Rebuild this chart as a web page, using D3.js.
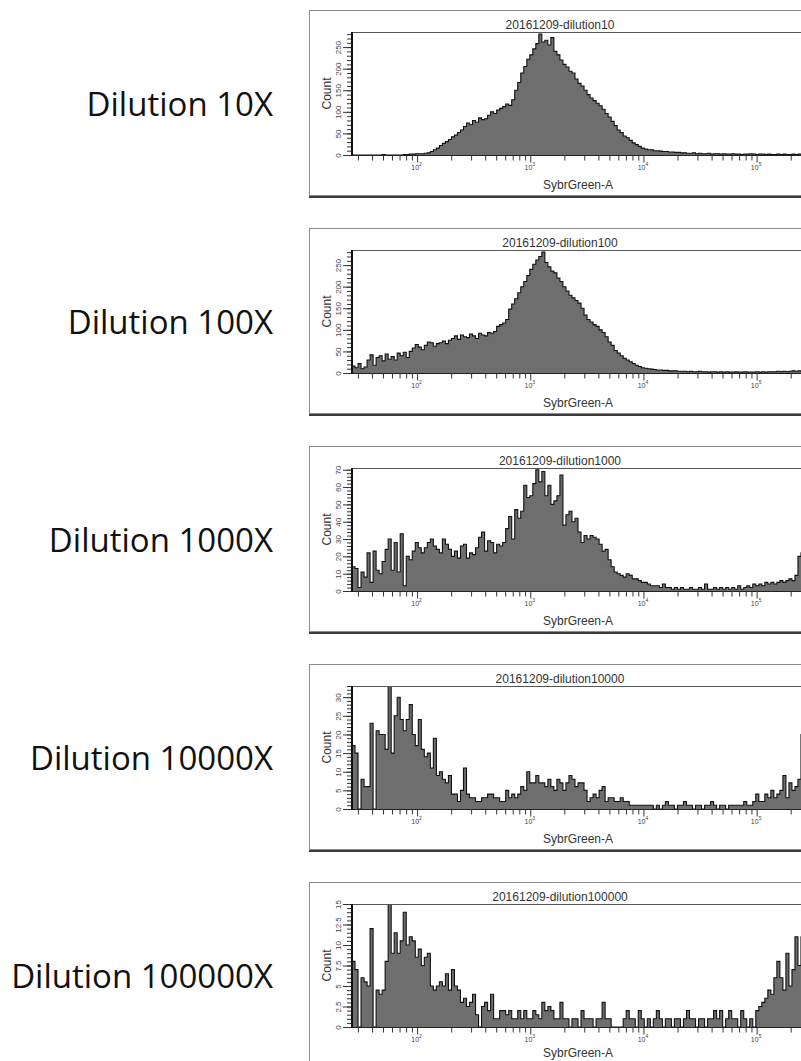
<!DOCTYPE html>
<html>
<head>
<meta charset="utf-8">
<script src="https://cdn.jsdelivr.net/npm/d3@7"></script>
<style>
  body { margin: 0; background: #fff; }
  svg { display: block; }
</style>
</head>
<body>
<div id="viz"></div>
<script>
// Row labels and FlowJo panel titles
var rowLabels = ["Dilution 10X", "Dilution 100X", "Dilution 1000X", "Dilution 10000X", "Dilution 100000X"];
var titles = ["20161209-dilution10", "20161209-dilution100", "20161209-dilution1000",
              "20161209-dilution10000", "20161209-dilution100000"];
var xLabel = "SybrGreen-A";
var yLabel = "Count";

// y axis max and label step per panel
var yMax = [285, 285, 71, 33, 15];
var yStep = [50, 50, 10, 5, 2.5];

// x axis range (log) and decade labels
var xRange = [26.6, 262144];
var xDecades = [2, 3, 4, 5];

// histogram counts, equal bins on the log axis
var counts10 = [
  0,0,0,0,0,0,0,0,0,0,
  1,0,0,0,0,0,0,1,1,2,
  2,3,3,3,4,5,8,12,16,22,
  27,31,36,42,46,52,58,66,74,70,
  80,76,86,82,84,92,100,96,104,108,
  112,118,115,128,150,168,190,205,222,232,
  246,258,280,262,266,255,272,240,232,220,
  210,204,194,190,176,166,160,150,140,132,
  126,120,114,106,96,88,78,68,58,52,
  44,40,34,28,24,20,16,14,12,12,
  10,10,9,8,8,7,7,6,6,5,
  5,4,4,5,3,4,3,3,4,2,
  3,3,2,3,2,2,3,2,2,1,
  2,2,3,2,1,2,2,1,2,1,
  1,2,1,2,1,1,2,1,2,2
];
var counts100 = [
  16,12,22,10,14,30,42,18,36,40,
  28,44,32,38,30,46,40,48,36,50,
  58,66,60,54,64,72,70,62,68,70,
  74,68,76,80,86,78,88,84,82,90,
  86,80,92,88,86,94,92,96,108,112,
  116,124,148,160,172,186,200,212,226,240,
  252,262,270,280,256,246,236,232,220,212,
  200,190,180,174,168,162,150,134,124,118,
  112,108,100,94,84,72,64,52,46,40,
  34,30,26,22,18,15,12,11,10,9,
  8,7,7,6,6,5,5,5,4,4,
  4,3,4,3,3,4,3,3,2,3,
  3,2,3,2,3,2,2,3,2,2,
  3,2,2,2,3,2,3,2,3,3,
  3,4,3,4,3,4,5,4,5,4
];
var counts1000 = [
  14,13,2,11,8,22,5,23,12,10,
  17,24,30,12,28,11,33,3,20,18,
  23,28,25,22,25,28,30,26,24,22,
  30,27,24,20,23,19,26,27,19,22,
  21,25,31,34,23,29,28,22,27,26,
  28,36,43,30,47,42,46,61,54,55,
  62,70,63,69,55,61,50,52,55,67,
  38,44,46,40,42,34,28,32,30,32,
  31,30,27,23,24,18,14,11,10,9,
  8,10,9,7,7,6,5,5,4,3,
  3,3,2,4,2,2,1,2,1,2,
  1,1,2,1,1,2,1,4,1,1,
  2,1,2,1,2,1,2,1,3,1,
  2,3,2,4,3,4,3,5,4,5,
  4,5,6,5,6,7,6,9,20,22
];
var counts10000 = [
  17,15,0,8,6,6,23,0,21,20,
  20,16,33,15,25,30,24,21,24,28,
  20,17,24,16,14,15,11,19,9,10,
  8,7,9,4,4,2,5,11,4,3,
  3,2,2,3,3,4,4,3,3,2,
  2,5,3,4,3,4,6,5,10,7,
  7,9,7,7,6,8,6,5,8,7,
  5,7,9,8,6,7,7,5,2,3,
  4,3,5,6,2,3,3,2,2,3,
  2,2,1,1,1,1,1,1,1,1,
  0,1,0,1,2,1,1,0,1,1,
  2,1,1,0,1,1,0,1,1,2,
  1,0,1,1,0,1,1,1,1,1,
  2,1,1,2,4,2,2,4,3,5,
  3,4,5,9,3,7,5,6,8,20
];
var counts100000 = [
  8,7,0,6,5.5,5,12,0,4.5,4,
  4.5,8,15,9,11.5,9,10.5,14,10,11,
  10.5,8.5,9.5,7.5,8.5,9,5,4.5,5,5.5,
  5,6.5,4.5,7,5,4.5,3,3.5,2.5,3,
  4,1.5,0,2.5,3,2,4,1,1,2,
  2,1.5,2,1,1,2,1,2,1,1,
  2,1.5,1,3,2,2.5,2,1,1,3,
  1,1,0,1,1,0,2,1,1,1,
  0,1,1,3,1,1,0,0,0,0,
  1,2,1,1,0,2,1,0,1,0,
  1,2,1,0,1,1,0,1,1,0,
  1,2,1,1,0,1,1,0,1,1,
  2,1,2,0,1,2,1,1,0,2,
  1,0,1,0,2,2.5,3,3.5,4.5,4,
  6,8,6,4.5,9,5,7,11,7.5,11
];
var series = [counts10, counts100, counts1000, counts10000, counts100000];

// layout
var WIDTH = 801;
var HEIGHT = 1061;
var PANEL_TOP = 10;
var PANEL_SHIFT = 218;
var BOX_LEFT = 309;
var PLOT_LEFT = 352;
var PLOT_RIGHT = 804;
var PLOT_TOP = 22;      // relative to panel top
var PLOT_BASE = 145;
var LABEL_RIGHT = 273;

var svg = d3.select("#viz")
  .append("svg")
  .attr("width", WIDTH)
  .attr("height", HEIGHT);

svg.append("defs");

function drawPanel(i)
{
  var T = PANEL_TOP + i * PANEL_SHIFT;
  var g = svg.append("g").attr("class", "panel");

  // row label on the left
  svg.append("text")
    .attr("x", LABEL_RIGHT)
    .attr("y", T + 106)
    .attr("text-anchor", "end")
    .style("font-family", "'Open Sans', sans-serif")
    .style("font-size", "33px")
    .style("fill", "#111")
    .text(rowLabels[i]);

  // outer frame of the FlowJo export
  g.append("rect")
    .attr("x", BOX_LEFT + 0.5)
    .attr("y", T + 0.5)
    .attr("width", 540)
    .attr("height", 185)
    .style("fill", "none")
    .style("stroke", "#8c8c8c");
  g.append("line")
    .attr("x1", BOX_LEFT).attr("x2", WIDTH)
    .attr("y1", T + 187).attr("y2", T + 187)
    .style("stroke", "#3a3a3a")
    .style("stroke-width", 2);

  var x = d3.scaleLog().domain(xRange).range([PLOT_LEFT, PLOT_RIGHT]);
  var y = d3.scaleLinear().domain([0, yMax[i]]).range([T + PLOT_BASE, T + PLOT_TOP]);

  // clip so spikes stay inside the plot
  svg.select("defs").append("clipPath")
    .attr("id", "clip" + i)
    .append("rect")
    .attr("x", PLOT_LEFT)
    .attr("y", T + PLOT_TOP)
    .attr("width", PLOT_RIGHT - PLOT_LEFT)
    .attr("height", PLOT_BASE - PLOT_TOP + 1);

  // bins -> step points
  var vals = series[i];
  var n = vals.length;
  var pts = vals.map(function(v, j) {
    return {e: xRange[0] * Math.pow(xRange[1] / xRange[0], j / n), v: v};
  });
  pts.push({e: xRange[1], v: vals[n - 1]});

  var area = d3.area()
    .curve(d3.curveStepAfter)
    .x(function(d) { return x(d.e); })
    .y0(y(0))
    .y1(function(d) { return y(d.v); });
  var line = d3.line()
    .curve(d3.curveStepAfter)
    .x(function(d) { return x(d.e); })
    .y(function(d) { return y(d.v); });

  var hist = g.append("g").attr("clip-path", "url(#clip" + i + ")");
  hist.append("path")
    .datum(pts)
    .attr("d", area)
    .style("fill", "#6e6e6e");
  hist.append("path")
    .datum(pts)
    .attr("d", line)
    .style("fill", "none")
    .style("stroke", "#111")
    .style("stroke-width", 1.1);

  // top frame of the plot
  g.append("line")
    .attr("x1", PLOT_LEFT).attr("x2", WIDTH + 10)
    .attr("y1", T + PLOT_TOP + 0.5).attr("y2", T + PLOT_TOP + 0.5)
    .style("stroke", "#555");

  // baseline
  g.append("line")
    .attr("x1", PLOT_LEFT).attr("x2", WIDTH + 10)
    .attr("y1", y(0) + 0.5).attr("y2", y(0) + 0.5)
    .style("stroke", "#222");

  // x axis: minor then major ticks
  var allTicks = x.ticks();
  var majors = xDecades.map(function(k) { return Math.pow(10, k); });
  var minors = allTicks.filter(function(t) { return majors.indexOf(t) < 0; });

  var xMinor = g.append("g")
    .attr("transform", "translate(0," + (y(0) + 0.5) + ")")
    .call(d3.axisBottom(x).tickValues(minors).tickSize(5).tickFormat(""));
  var xMajor = g.append("g")
    .attr("transform", "translate(0," + (y(0) + 0.5) + ")")
    .call(d3.axisBottom(x).tickValues(majors).tickSize(7).tickFormat(""));
  [xMinor, xMajor].forEach(function(a) {
    a.select(".domain").remove();
    a.selectAll(".tick line").style("stroke", "#333");
  });

  // decade labels 10^k
  xMajor.selectAll(".tick").each(function(d, j) {
    var t = d3.select(this).append("text")
      .attr("y", 14)
      .attr("x", -1)
      .attr("text-anchor", "middle")
      .style("font-family", "'Liberation Sans', Arial, sans-serif")
      .style("font-size", "7px")
      .style("fill", "#444");
    t.append("tspan").text("10");
    t.append("tspan")
      .attr("dy", -4)
      .style("font-size", "5px")
      .text(xDecades[j]);
  });

  // y axis
  var yTicks = d3.range(0, yMax[i] + 1e-6, yStep[i]);
  var yMinorTicks = d3.range(0, yMax[i] + 1e-6, yStep[i] / 5);
  var yMinorAx = g.append("g")
    .attr("transform", "translate(" + PLOT_LEFT + ",0)")
    .call(d3.axisLeft(y).tickValues(yMinorTicks).tickSize(5).tickFormat(""));
  var yMajorAx = g.append("g")
    .attr("transform", "translate(" + PLOT_LEFT + ",0)")
    .call(d3.axisLeft(y).tickValues(yTicks).tickSize(9).tickFormat(""));
  [yMinorAx, yMajorAx].forEach(function(a) {
    a.select(".domain").remove();
    a.selectAll(".tick line").style("stroke", "#333");
  });
  yMajorAx.selectAll(".tick").append("text")
    .attr("transform", "translate(-11,0) rotate(-90)")
    .attr("text-anchor", "middle")
    .style("font-family", "'Liberation Sans', Arial, sans-serif")
    .style("font-size", "8px")
    .style("fill", "#444")
    .text(function(d) { return String(d); });

  // thick left axis line
  g.append("line")
    .attr("x1", PLOT_LEFT).attr("x2", PLOT_LEFT)
    .attr("y1", T + PLOT_TOP).attr("y2", y(0) + 1)
    .style("stroke", "#111")
    .style("stroke-width", 2);

  // titles
  g.append("text")
    .attr("x", 560)
    .attr("y", T + 19)
    .attr("text-anchor", "middle")
    .style("font-family", "'Liberation Sans', Arial, sans-serif")
    .style("font-size", "12px")
    .style("fill", "#333")
    .text(titles[i]);
  // the last panel is cut by the page edge, keep its label inside
  g.append("text")
    .attr("x", 578)
    .attr("y", Math.min(T + 179, HEIGHT - 4))
    .attr("text-anchor", "middle")
    .style("font-family", "'Liberation Sans', Arial, sans-serif")
    .style("font-size", "12px")
    .style("fill", "#333")
    .text(xLabel);
  g.append("text")
    .attr("transform", "translate(331," + (T + 83.5) + ") rotate(-90)")
    .attr("text-anchor", "middle")
    .style("font-family", "'Liberation Sans', Arial, sans-serif")
    .style("font-size", "12px")
    .style("fill", "#333")
    .text(yLabel);
}

for (var i = 0; i < series.length; i++) {
  drawPanel(i);
}
</script>
</body>
</html>
